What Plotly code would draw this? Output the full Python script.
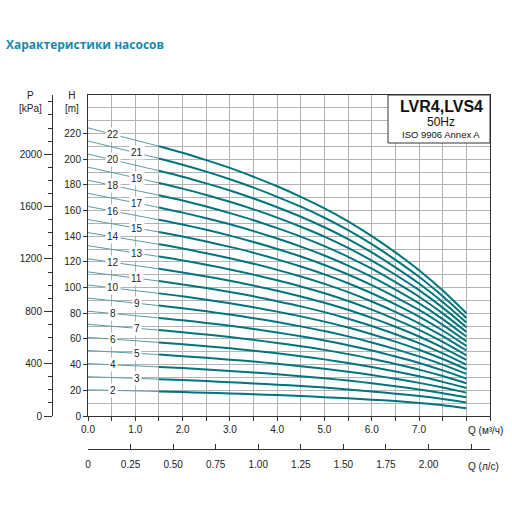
import numpy as np
import plotly.graph_objects as go

# flow Q [m3/h] where the curves were read
q = [0, 1, 1.5, 2, 2.5, 3, 3.5, 4, 4.5, 5, 5.5, 6, 6.5, 7, 7.5, 8]

# head H [m] for each number of stages
h_02 = [20.4, 19.5, 19.1, 18.6, 18.1, 17.6, 16.9, 16.3, 15.5, 14.7, 13.8, 12.7, 11.6, 10.1, 8.4, 6.0]
h_03 = [30.6, 29.3, 28.7, 28.0, 27.2, 26.3, 25.4, 24.4, 23.3, 22.1, 20.7, 19.1, 17.4, 15.5, 13.3, 10.6]
h_04 = [40.8, 39.1, 38.2, 37.3, 36.2, 35.1, 33.9, 32.5, 31.0, 29.4, 27.6, 25.5, 23.2, 20.6, 17.8, 14.6]
h_05 = [51.0, 48.9, 47.8, 46.6, 45.3, 43.9, 42.4, 40.7, 38.8, 36.8, 34.5, 31.9, 29.0, 25.8, 22.2, 18.2]
h_06 = [61.2, 58.6, 57.3, 55.9, 54.4, 52.7, 50.8, 48.8, 46.6, 44.1, 41.3, 38.2, 34.7, 31.0, 26.6, 21.8]
h_07 = [71.4, 68.4, 66.9, 65.2, 63.4, 61.5, 59.3, 56.9, 54.3, 51.5, 48.2, 44.6, 40.5, 36.1, 31.1, 25.5]
h_08 = [81.6, 78.2, 76.4, 74.6, 72.5, 70.2, 67.8, 65.0, 62.1, 58.8, 55.1, 51.0, 46.3, 41.3, 35.5, 29.1]
h_09 = [91.8, 87.9, 86.0, 83.9, 81.5, 79.0, 76.2, 73.2, 69.8, 66.2, 62.0, 57.3, 52.1, 46.4, 40.0, 32.8]
h_10 = [102.0, 97.7, 95.5, 93.2, 90.6, 87.8, 84.7, 81.3, 77.6, 73.5, 68.9, 63.7, 57.9, 51.6, 44.4, 36.4]
h_11 = [112.2, 107.5, 105.1, 102.5, 99.7, 96.6, 93.2, 89.4, 85.4, 80.9, 75.8, 70.1, 63.7, 56.8, 48.8, 40.0]
h_12 = [122.4, 117.2, 114.6, 111.8, 108.7, 105.4, 101.6, 97.6, 93.1, 88.2, 82.7, 76.4, 69.5, 61.9, 53.3, 43.7]
h_13 = [132.6, 127.0, 124.2, 121.2, 117.8, 114.1, 110.1, 105.7, 100.9, 95.6, 89.6, 82.8, 75.3, 67.1, 57.7, 47.3]
h_14 = [142.8, 136.8, 133.7, 130.5, 126.8, 122.9, 118.6, 113.8, 108.6, 102.9, 96.5, 89.2, 81.1, 72.2, 62.2, 51.0]
h_15 = [153.0, 146.6, 143.3, 139.8, 135.9, 131.7, 127.1, 122.0, 116.4, 110.3, 103.4, 95.6, 86.9, 77.4, 66.6, 54.6]
h_16 = [163.2, 156.3, 152.8, 149.1, 145.0, 140.5, 135.5, 130.1, 124.2, 117.6, 110.2, 101.9, 92.6, 82.6, 71.0, 58.2]
h_17 = [173.4, 166.1, 162.4, 158.4, 154.0, 149.3, 144.0, 138.2, 131.9, 125.0, 117.1, 108.3, 98.4, 87.7, 75.5, 61.9]
h_18 = [183.6, 175.9, 171.9, 167.8, 163.1, 158.0, 152.5, 146.3, 139.7, 132.3, 124.0, 114.7, 104.2, 92.9, 79.9, 65.5]
h_19 = [193.8, 185.6, 181.5, 177.1, 172.1, 166.8, 160.9, 154.5, 147.4, 139.7, 130.9, 121.0, 110.0, 98.0, 84.4, 69.2]
h_20 = [204.0, 195.4, 191.0, 186.4, 181.2, 175.6, 169.4, 162.6, 155.2, 147.0, 137.8, 127.4, 115.8, 103.2, 88.8, 72.8]
h_21 = [214.2, 205.2, 200.6, 195.7, 190.3, 184.4, 177.9, 170.7, 163.0, 154.4, 144.7, 133.8, 121.6, 108.4, 93.2, 76.4]
h_22 = [224.4, 214.9, 210.1, 205.0, 199.3, 193.2, 186.3, 178.9, 170.7, 161.7, 151.6, 140.1, 127.4, 113.5, 97.7, 80.1]

stages = [2, 3, 4, 5, 6, 7, 8, 9, 10, 11, 12, 13, 14, 15, 16, 17, 18, 19, 20, 21, 22]
curves = [h_02, h_03, h_04, h_05, h_06, h_07, h_08, h_09, h_10, h_11, h_12,
          h_13, h_14, h_15, h_16, h_17, h_18, h_19, h_20, h_21, h_22]

q_ticks = [0, 1, 2, 3, 4, 5, 6, 7]
q_labels = ["0.0", "1.0", "2.0", "3.0", "4.0", "5.0", "6.0", "7.0"]
h_ticks = [0, 20, 40, 60, 80, 100, 120, 140, 160, 180, 200, 220]
p_ticks = [0, 400, 800, 1200, 1600, 2000]
ls_ticks = [0, 0.25, 0.5, 0.75, 1.0, 1.25, 1.5, 1.75, 2.0, 2.25]
ls_labels = ["0", "0.25", "0.50", "0.75", "1.00", "1.25", "1.50", "1.75", "2.00", ""]

q_max = 8.5
h_max = 250
thin_col = "#5c9d9d"
thick_col = "#00757b"
grid_col = "#b3b3b3"
axis_col = "#333333"
tick_font = dict(family="Liberation Sans, Arial", size=10, color="#222222")


def px(x):
    # page pixel -> paper x
    return (x - 30) / 460


def py(y):
    # page pixel -> paper y
    return (462 - y) / 367


fig = go.Figure()

split = q.index(1.5)
for n, h in zip(stages, curves):
    fig.add_trace(go.Scatter(x=q[:split + 1], y=h[:split + 1], mode="lines",
                             line=dict(color=thin_col, width=1), hoverinfo="skip"))
    fig.add_trace(go.Scatter(x=q[split:], y=h[split:], mode="lines",
                             line=dict(color=thick_col, width=2, shape="spline", smoothing=0.8),
                             hoverinfo="skip"))
    qx = 0.52 if n % 2 == 0 else 1.03
    fig.add_annotation(x=qx, y=float(np.interp(qx, q, h)), text=str(n), showarrow=False,
                       bgcolor="white", borderpad=1, font=tick_font)

# empty traces so the extra axes get drawn
fig.add_trace(go.Scatter(x=[0], y=[0], xaxis="x2", yaxis="y", mode="markers",
                         marker=dict(opacity=0), hoverinfo="skip"))
fig.add_trace(go.Scatter(x=[0], y=[0], xaxis="x", yaxis="y2", mode="markers",
                         marker=dict(opacity=0), hoverinfo="skip"))

fig.update_layout(
    width=512, height=512,
    margin=dict(l=30, r=22, t=95, b=50, autoexpand=False),
    plot_bgcolor="white", paper_bgcolor="white",
    showlegend=False,
    title=dict(text="<b>Характеристики насосов</b>", x=6 / 512, xanchor="left",
               y=1 - 45 / 512, yanchor="middle", xref="container", yref="container",
               font=dict(family="Open Sans", size=12, color="#1a88a8")),
    xaxis=dict(domain=[px(88), 1], range=[0, q_max], tickvals=q_ticks, ticktext=q_labels,
               ticks="outside", ticklen=4, tickcolor=axis_col, tickfont=tick_font,
               showline=True, linecolor=axis_col, mirror=True, zeroline=False,
               showgrid=True, gridcolor=grid_col, automargin=False,
               minor=dict(dtick=0.5, tick0=0, ticks="outside", ticklen=4, tickcolor=axis_col,
                          showgrid=True, gridcolor=grid_col)),
    yaxis=dict(domain=[py(416), 1], range=[0, h_max], tickvals=h_ticks,
               ticks="outside", ticklen=4, tickcolor=axis_col, tickfont=tick_font,
               showline=True, linecolor=axis_col, mirror=True, zeroline=False,
               showgrid=True, gridcolor=grid_col, automargin=False,
               minor=dict(dtick=10, tick0=0, ticks="", showgrid=True, gridcolor=grid_col)),
    xaxis2=dict(domain=[px(88), 1], range=[0, q_max / 3.6], overlaying="x", anchor="free",
                position=py(449), side="bottom", tickvals=ls_ticks, ticktext=ls_labels,
                ticks="inside", ticklen=5, tickcolor=axis_col, tickfont=tick_font,
                showline=True, linecolor=axis_col, showgrid=False, zeroline=False,
                ticklabelstandoff=6, automargin=False),
    yaxis2=dict(domain=[py(416), 1], range=[0, h_max * 9.81], overlaying="y", anchor="free",
                position=px(52), side="left", tickvals=p_ticks,
                ticks="outside", ticklen=8, tickcolor=axis_col, tickfont=tick_font,
                showline=True, linecolor=axis_col, showgrid=False, zeroline=False,
                automargin=False,
                minor=dict(dtick=100, tick0=0, ticks="outside", ticklen=4, tickcolor=axis_col)),
)

# model box in the top right corner
fig.add_shape(type="rect", xref="paper", yref="paper", x0=px(388), x1=1,
              y0=py(143), y1=1, fillcolor="white",
              line=dict(color=axis_col, width=1), layer="above")
box_font = "Liberation Sans, Arial"
fig.add_annotation(xref="paper", yref="paper", x=px(441), y=py(106.5),
                   xanchor="center", yanchor="middle",
                   text="<b>LVR4,LVS4</b>", showarrow=False,
                   font=dict(family=box_font, size=16, color="#111111"))
fig.add_annotation(xref="paper", yref="paper", x=px(441), y=py(121.5),
                   xanchor="center", yanchor="middle",
                   text="50Hz", showarrow=False,
                   font=dict(family=box_font, size=12, color="#111111"))
fig.add_annotation(xref="paper", yref="paper", x=px(441), y=py(134.5),
                   xanchor="center", yanchor="middle",
                   text="ISO 9906 Annex A", showarrow=False,
                   font=dict(family=box_font, size=9.5, color="#111111"))

# axis names
fig.add_annotation(xref="paper", yref="paper", x=px(30), y=py(102),
                   xanchor="center", yanchor="middle",
                   text="P<br>[kPa]", showarrow=False, font=tick_font)
fig.add_annotation(xref="paper", yref="paper", x=px(72), y=py(102),
                   xanchor="center", yanchor="middle",
                   text="H<br>[m]", showarrow=False, font=tick_font)
fig.add_annotation(xref="x", yref="paper", x=8, xanchor="left", y=py(430), yanchor="middle",
                   text="Q (м³/ч)", showarrow=False, font=tick_font)
fig.add_annotation(xref="x", yref="paper", x=8, xanchor="left", y=py(466), yanchor="middle",
                   text="Q (л/с)", showarrow=False, font=tick_font)

fig.write_html("out.html", config={"displayModeBar": False},
               post_script="document.body.style.margin='0';")
